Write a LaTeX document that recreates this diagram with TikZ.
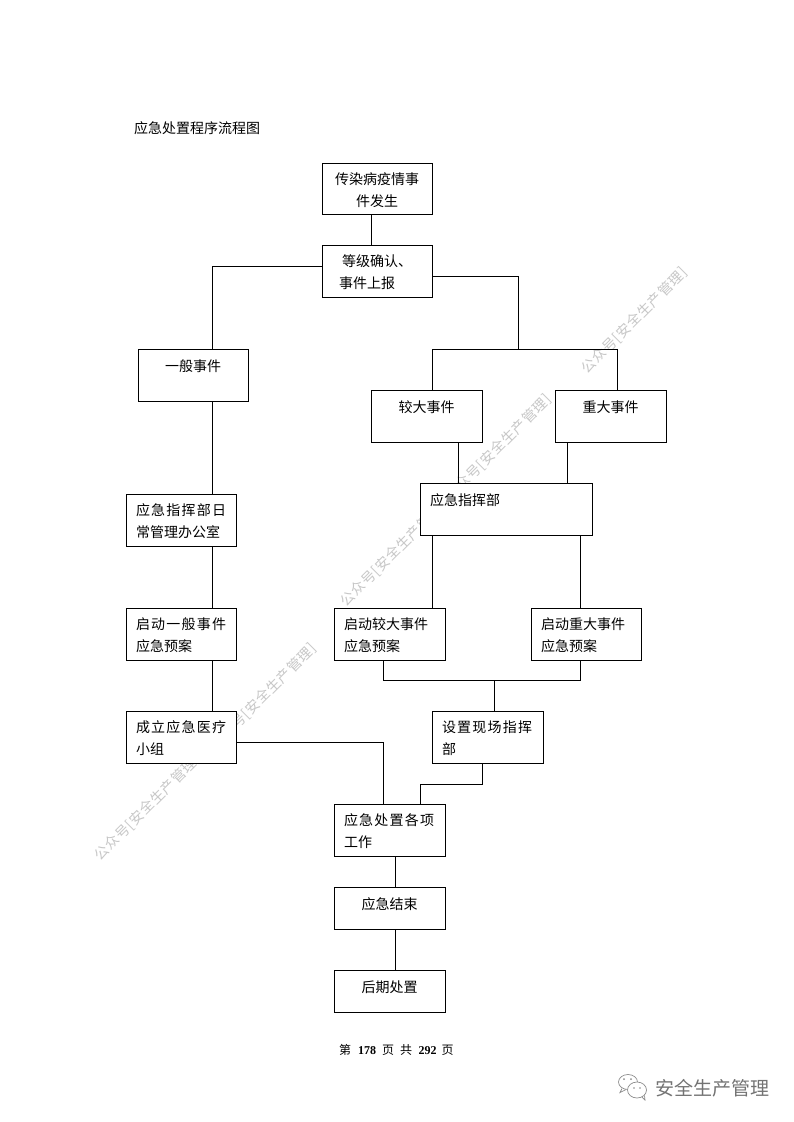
\documentclass[tikz,border=0pt]{standalone}
\usepackage{fontspec}
\setmainfont{Liberation Serif}
\newfontfamily\cjk{Noto Sans CJK SC}
\newfontfamily\cjkwm[LetterSpace=5]{Noto Sans CJK SC}
\newcommand{\J}[2]{{\addfontfeature{LetterSpace=#1}#2}}
\tikzset{
  bx/.style 2 args={draw=black,line width=0.9pt,fill=white,rectangle,inner xsep=10pt,inner ysep=0pt,
    text width=#1pt-20pt,minimum height=#2pt,align=left,
    font=\cjk\fontsize{14}{22}\selectfont,text=black,execute at begin node={\rule{0pt}{14.5pt}}},
  ctr/.style={align=center},
  lnk/.style={draw=black,line width=0.9pt},
  wm/.style={rotate=45,text=black!22,font=\cjkwm\fontsize{14}{15}\selectfont,inner sep=0pt,anchor=west},
  logotxt/.style={text=black!55,font=\cjk\fontsize{19}{22}\selectfont,inner sep=0pt,anchor=west},
  plain/.style={inner sep=0pt,anchor=west,text=black}
}
\begin{document}
\begin{tikzpicture}[x=1pt,y=-1pt]
\useasboundingbox (0,0) rectangle (793,1122);
\fill[white] (0,0) rectangle (793,1122);
% watermark
\node[wm] (w1) at (97,858) {公众号[安全生产管理]};
\node[wm] (w2) at (213,747) {公众号[安全生产管理]};
\node[wm] (w3) at (343,604) {公众号[安全生产管理]};
\node[wm] (w4) at (448,498) {公众号[安全生产管理]};
\node[wm] (w5) at (584,371) {公众号[安全生产管理]};
% title
\node[plain,font=\cjk\fontsize{14}{16}\selectfont] (title) at (134,128) {应急处置程序流程图};
% boxes
\node[bx={110}{51}] (a) at (377,188.5) {\hspace*{3pt}传染病疫情事\\\hspace*{24pt}件发生};
\node[bx={110}{52}] (b) at (377,271) {\hspace*{10pt}等级确认、\\\hspace*{7pt}事件上报};
\node[bx={110}{52},ctr] (c1) at (193,375) {一般事件\\[-8pt]\strut};
\node[bx={111}{52},ctr] (c2) at (426.5,416) {较大事件\\[-8pt]\strut};
\node[bx={111}{52},ctr] (c3) at (610.5,416) {重大事件\\[-8pt]\strut};
\node[bx={172}{52}] (d) at (506,509) {应急指挥部\\[-8pt]\strut};
\node[bx={110}{52}] (e1) at (181,520) {\J{8.6}{应急指挥部日}\\常管理办公室};
\node[bx={110}{52}] (f1) at (181,634) {\J{8.6}{启动一般事件}\\应急预案};
\node[bx={111}{52}] (f2) at (389.5,634) {启动较大事件\\应急预案};
\node[bx={110}{52}] (f3) at (586,634) {启动重大事件\\应急预案};
\node[bx={110}{52}] (g1) at (181,737) {\J{8.6}{成立应急医疗}\\小组};
\node[bx={111}{52}] (g2) at (487.5,737) {\J{8.6}{设置现场指挥}\\部};
\node[bx={111}{52}] (h) at (389.5,830) {\J{8.6}{应急处置各项}\\工作};
\node[bx={111}{42},ctr] (i) at (389.5,908) {应急结束\\[-18pt]\strut};
\node[bx={111}{42},ctr] (j) at (389.5,991) {后期处置\\[-18pt]\strut};
% connectors
\coordinate (r1) at (518,349);
\coordinate (m1) at (494,680);
\draw[lnk] ([xshift=-6pt]a.south) -- ([xshift=-6pt]b.north);
\draw[lnk] ([yshift=5pt]b.west) -| ([xshift=19pt]c1.north);
\draw[lnk] ([yshift=-5pt]b.east) -| (r1);
\draw[lnk] ([xshift=5.5pt]c2.north |- r1) -- ([xshift=6.5pt]c3.north |- r1);
\draw[lnk] ([xshift=5.5pt]c2.north |- r1) -- ([xshift=5.5pt]c2.north);
\draw[lnk] ([xshift=6.5pt]c3.north |- r1) -- ([xshift=6.5pt]c3.north);
\draw[lnk] ([xshift=19pt]c1.south) -- ([xshift=31pt]e1.north);
\draw[lnk] ([xshift=31.5pt]c2.south) -- ([xshift=-48pt]d.north);
\draw[lnk] ([xshift=-43.5pt]c3.south) -- ([xshift=61pt]d.north);
\draw[lnk] ([xshift=-74pt]d.south) -- ([xshift=42.5pt]f2.north);
\draw[lnk] ([xshift=74pt]d.south) -- ([xshift=-6pt]f3.north);
\draw[lnk] ([xshift=31pt]e1.south) -- ([xshift=31pt]f1.north);
\draw[lnk] ([xshift=31pt]f1.south) -- ([xshift=31pt]g1.north);
\draw[lnk] ([xshift=-6.5pt]f2.south) |- (m1);
\draw[lnk] ([xshift=-6pt]f3.south) |- (m1);
\draw[lnk] (m1) -- ([xshift=6.5pt]g2.north);
\draw[lnk] ([yshift=-5pt]g1.east) -| ([xshift=-6.5pt]h.north);
\draw[lnk] ([xshift=-5.5pt]g2.south) -- ++(0,21) -| ([xshift=30.5pt]h.north);
\draw[lnk] ([xshift=5.5pt]h.south) -- ([xshift=5.5pt]i.north);
\draw[lnk] ([xshift=5.5pt]i.south) -- ([xshift=5.5pt]j.north);
% footer
\node[plain,font=\cjk\fontsize{12}{14}\selectfont] (foot) at (339,1050) {第\hspace{7pt}\textbf{\rmfamily 178}\hspace{6pt}页\hspace{6pt}共\hspace{6.5pt}\textbf{\rmfamily 292}\hspace{5pt}页};
% logo
\draw[black!45,fill=white,line width=0.7pt] (628,1082) ellipse (9.5 and 7.5);
\draw[black!45,line width=0.7pt] (622,1088.5) -- (620,1092.5) -- (626,1089.5);
\draw[black!45,fill=white,line width=0.7pt] (637,1090) ellipse (9.5 and 8);
\draw[black!45,line width=0.7pt] (642,1097) -- (645,1100) -- (644.5,1095.5);
\fill[black!45] (624,1079) circle (1) (631,1079) circle (1) (634,1088) circle (0.9) (640,1088) circle (0.9);
\node[logotxt] (logo) at (655,1088) {安全生产管理};
\end{tikzpicture}
\end{document}
